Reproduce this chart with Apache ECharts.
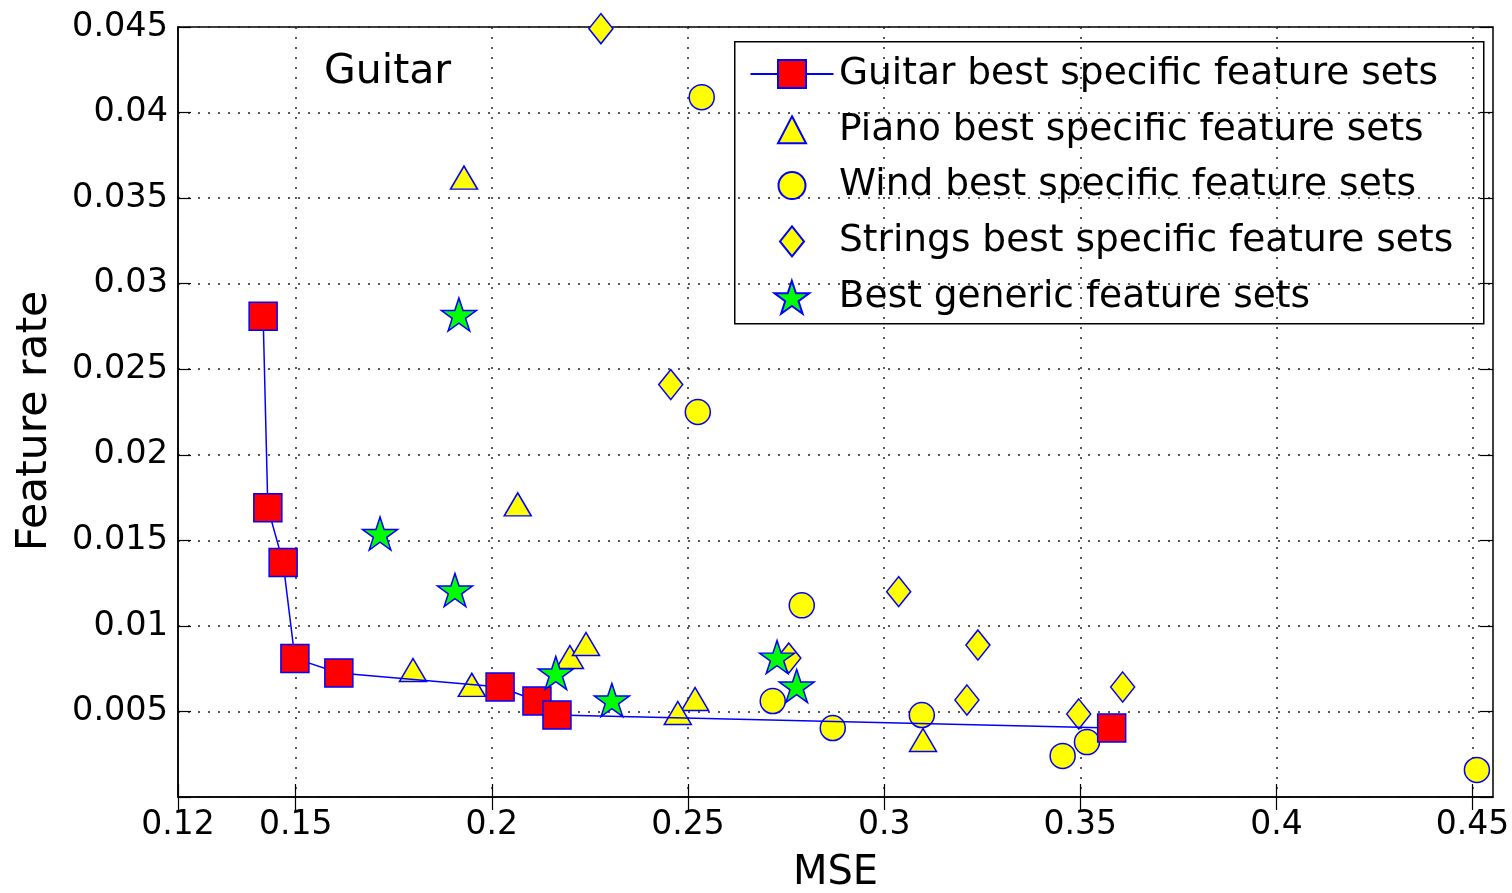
<!DOCTYPE html>
<html>
<head>
<meta charset="utf-8">
<script src="https://cdn.jsdelivr.net/npm/echarts@6/dist/echarts.min.js"></script>
<style>
html,body{margin:0;padding:0;background:#fff;}
#chart{width:1512px;height:893px;}
</style>
</head>
<body>
<div id="chart"></div>
<script>
// ---- data (MSE, Feature rate) ----
const guitarData = [[0.1417,0.0281],[0.1429,0.0169],[0.1468,0.0137],[0.1498,0.0081],[0.1610,0.00725],[0.2021,0.00643],[0.2115,0.00561],[0.2166,0.00479],[0.3580,0.00403]];
const pianoData = [[0.1929,0.0362],[0.2066,0.0171],[0.1799,0.00742],[0.1949,0.00655],[0.2199,0.00818],[0.2240,0.00894],[0.2518,0.00573],[0.2474,0.00491],[0.3099,0.00333]];
const windData = [[0.2535,0.0409],[0.2525,0.0225],[0.2790,0.0112],[0.2716,0.00561],[0.2869,0.00403],[0.3096,0.00479],[0.3455,0.0024],[0.3517,0.00321],[0.4511,0.00158]];
const stringsData = [[0.2278,0.0449],[0.2456,0.0241],[0.3037,0.0120],[0.3239,0.00888],[0.3211,0.00567],[0.3496,0.00485],[0.3608,0.00643],[0.2757,0.00812]];
const genericData = [[0.1916,0.0282],[0.1715,0.0154],[0.1906,0.0121],[0.2163,0.00725],[0.2306,0.00567],[0.2727,0.00818],[0.2777,0.00649]];
const xTicks = [0.12,0.15,0.2,0.25,0.3,0.35,0.4,0.45];
const seriesNames = ['Guitar best specific feature sets','Piano best specific feature sets','Wind best specific feature sets','Strings best specific feature sets','Best generic feature sets'];

const FONT = 'DejaVu Sans';
const starPath = 'path://M0,-1000L224,-309L951,-309L363,118L588,809L0,382L-588,809L-363,118L-951,-309L-224,-309Z';
const edge = {borderColor:'#0000ff', borderWidth:1.5};
const grid = {type:[2,8], color:'#222', width:1.5};

// legend layout helpers (one legend per entry so each icon gets its own size)
const legendIcons = [[83,35],[28,27],[27,29],[24,30],[35,33]];
const iconCenterX = 791, textStartX = 838, firstRowY = 74, rowStep = 55.8;
const legends = seriesNames.map((nm,i)=>{
  const w = legendIcons[i][0], h = legendIcons[i][1];
  const left = iconCenterX - w/2;
  const pad = textStartX - (left + w + 5);
  return {
    data:[nm], orient:'vertical', left:left, top:firstRowY + i*rowStep - 20,
    itemWidth:w, itemHeight:h, selectedMode:false, padding:0,
    textStyle:{fontSize:37.5, color:'#000', fontFamily:FONT, lineHeight:40, padding:[0,0,0,pad]}
  };
});

const chart = echarts.init(document.getElementById('chart'), null, {renderer:'canvas'});
chart.setOption({
  animation:false,
  backgroundColor:'#fff',
  textStyle:{fontFamily:FONT},
  grid:{left:178, right:19, top:27, bottom:96, show:true, outerBoundsMode:'none', containLabel:false,
    borderColor:'#000', borderWidth:1.5, backgroundColor:'transparent'},
  xAxis:[{
    type:'value', min:0.12, max:0.4552,
    name:'MSE', nameLocation:'middle', nameGap:57,
    nameTextStyle:{fontSize:40, color:'#000', fontFamily:FONT},
    axisLine:{show:true, onZero:false, lineStyle:{color:'#000', width:1.5}},
    axisTick:{show:true, inside:true, length:13, customValues:xTicks, lineStyle:{color:'#000', width:1.2}},
    axisLabel:{customValues:xTicks, fontSize:33, color:'#000', margin:12, fontFamily:FONT,
      formatter:v=>String(+(+v).toFixed(3))},
    splitLine:{show:true, lineStyle:grid}
  },{
    type:'value', min:0.12, max:0.4552, position:'top',
    axisLine:{show:false},
    axisTick:{show:true, inside:true, length:13, customValues:xTicks, lineStyle:{color:'#000', width:1.2}},
    axisLabel:{show:false}, splitLine:{show:false}
  }],
  yAxis:[{
    type:'value', min:0, max:0.045, interval:0.005,
    name:'Feature rate', nameLocation:'middle', nameGap:122,
    nameTextStyle:{fontSize:42.5, color:'#000', fontFamily:FONT, padding:[0,18,0,0]},
    axisLine:{show:true, lineStyle:{color:'#000', width:1.5}},
    axisTick:{show:true, inside:true, length:13, lineStyle:{color:'#000', width:1.2}},
    axisLabel:{fontSize:33.5, color:'#000', margin:10, fontFamily:FONT,
      formatter:v=> v===0 ? '' : String(+(+v).toFixed(3))},
    splitLine:{show:true, lineStyle:grid}
  },{
    type:'value', min:0, max:0.045, interval:0.005, position:'right',
    axisLine:{show:false},
    axisTick:{show:true, inside:true, length:13, lineStyle:{color:'#000', width:1.2}},
    axisLabel:{show:false}, splitLine:{show:false}
  }],
  legend:legends,
  graphic:[
    {type:'rect', left:734, top:41, shape:{width:749, height:282}, style:{fill:'#fff', stroke:'#000', lineWidth:1.5}, z:-1, silent:true},
    {type:'text', left:324, top:52, style:{text:'Guitar', fontSize:41, fontFamily:FONT, fill:'#000'}}
  ],
  series:[
    {name:seriesNames[1], type:'scatter', data:pianoData, symbol:'triangle', symbolSize:[27,23],
      itemStyle:Object.assign({color:'#ffff00', opacity:1}, edge), z:2},
    {name:seriesNames[2], type:'scatter', data:windData, symbol:'circle', symbolSize:25,
      itemStyle:Object.assign({color:'#ffff00', opacity:1}, edge), z:2},
    {name:seriesNames[3], type:'scatter', data:stringsData, symbol:'diamond', symbolSize:[24,30],
      itemStyle:Object.assign({color:'#ffff00', opacity:1}, edge), z:2},
    {name:seriesNames[0], type:'line', data:guitarData, symbol:'rect', symbolSize:28, showAllSymbol:true,
      lineStyle:{color:'#0000ff', width:1.5},
      itemStyle:Object.assign({color:'#ff0000', opacity:1}, edge), z:3},
    {name:seriesNames[4], type:'scatter', data:genericData, symbol:starPath, symbolSize:[35,33],
      itemStyle:Object.assign({color:'#00ff00', opacity:1}, edge), z:4}
  ]
});
</script>
</body>
</html>
